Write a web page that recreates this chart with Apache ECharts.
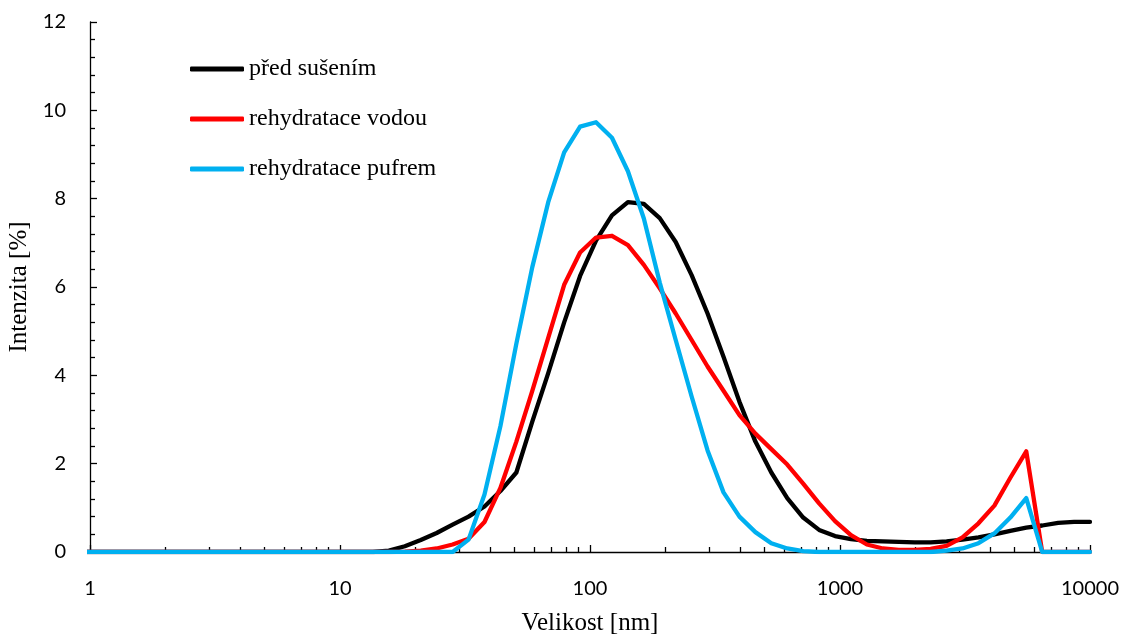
<!DOCTYPE html>
<html>
<head>
<meta charset="utf-8">
<script src="https://cdn.jsdelivr.net/npm/echarts@6/dist/echarts.min.js"></script>
<style>
html,body{margin:0;padding:0;background:#fff;}
#chart{width:1121px;height:634px;}
</style>
</head>
<body>
<div id="chart"></div>
<script>
// Particle size bins [nm]
const sizes = [0.9649,1.117,1.294,1.499,1.736,2.01,2.328,2.696,3.122,3.615,4.187,4.849,5.615,6.503,7.531,8.721,
  10.1,11.7,13.54,15.69,18.17,21.04,24.36,28.21,32.67,37.84,43.82,50.75,58.77,68.06,78.82,91.28,
  105.7,122.4,141.8,164.2,190.1,220.2,255.0,295.3,342.0,396.1,458.7,531.2,615.1,712.4,825.0,955.4,
  1106,1281,1484,1718,1990,2305,2669,3091,3580,4145,4801,5560,6439,7456,8635,10000];

const seriesNames = ['před sušením','rehydratace vodou','rehydratace pufrem'];

const predSusenim = [0,0,0,0,0,0,0,0,0,0,0,0,0,0,0,0,
  0,0,0,0.03,0.13,0.27,0.43,0.62,0.8,1.03,1.38,1.8,2.95,4.05,5.2,6.25,
  7.05,7.62,7.92,7.88,7.56,7.02,6.27,5.4,4.42,3.4,2.5,1.8,1.22,0.78,0.5,0.36,
  0.29,0.25,0.24,0.23,0.22,0.22,0.24,0.28,0.33,0.4,0.48,0.55,0.6,0.66,0.68,0.68];

const rehydrataceVodou = [0,0,0,0,0,0,0,0,0,0,0,0,0,0,0,0,
  0,0,0,0,0.01,0.03,0.08,0.17,0.3,0.68,1.45,2.5,3.65,4.85,6.05,6.78,
  7.12,7.16,6.95,6.5,5.97,5.4,4.8,4.2,3.65,3.1,2.68,2.33,1.98,1.55,1.1,0.7,
  0.38,0.17,0.08,0.05,0.05,0.07,0.14,0.33,0.65,1.05,1.68,2.28,0,0,0,0];

const rehydratacePufrem = [0,0,0,0,0,0,0,0,0,0,0,0,0,0,0,0,
  0,0,0,0,0,0,0,0,0.28,1.3,2.85,4.72,6.45,7.92,9.05,9.63,
  9.73,9.38,8.62,7.55,6.1,4.8,3.52,2.3,1.35,0.8,0.45,0.2,0.08,0.02,0,0,
  0,0,0,0,0,0,0.03,0.08,0.2,0.42,0.78,1.22,0,0,0,0];

const colors = ['#000000','#FF0000','#00B0F0'];
const allValues = [predSusenim, rehydrataceVodou, rehydratacePufrem];

const pair = vals => sizes.map((s,i)=>[s, vals[i]]);

const chart = echarts.init(document.getElementById('chart'), null, {renderer:'canvas'});
const serif = '"Liberation Serif","Times New Roman",serif';
const sans = 'Lato,"Liberation Sans",sans-serif';

chart.setOption({
  animation:false,
  backgroundColor:'#ffffff',
  grid:{left:90,right:31,top:22,bottom:82,containLabel:false,outerBoundsMode:'none'},
  legend:{
    data:seriesNames,
    orient:'vertical',
    left:185, top:52,
    padding:5,
    icon:'roundRect',
    itemWidth:54, itemHeight:5,
    itemGap:26,
    textStyle:{fontFamily:serif,fontSize:24,color:'#000',lineHeight:24}
  },
  xAxis:{
    type:'log', logBase:10, min:1, max:10000,
    name:'Velikost [nm]', nameLocation:'middle', nameGap:59,
    nameTextStyle:{fontFamily:serif,fontSize:25,color:'#000'},
    axisLine:{show:true,onZero:false,lineStyle:{color:'#000',width:1.3}},
    axisTick:{show:true,inside:true,length:7,lineStyle:{color:'#000',width:1.3}},
    minorTick:{show:true,splitNumber:9,length:5,lineStyle:{color:'#000',width:1.3}},
    axisLabel:{fontFamily:sans,fontSize:20,color:'#000',margin:27,formatter:v=>String(v)},
    splitLine:{show:false}, minorSplitLine:{show:false}
  },
  yAxis:{
    type:'value', min:0, max:12, interval:2,
    name:'Intenzita [%]', nameLocation:'middle', nameGap:58, nameRotate:90,
    nameTextStyle:{fontFamily:serif,fontSize:25,color:'#000'},
    axisLine:{show:true,lineStyle:{color:'#000',width:1.3}},
    axisTick:{show:true,inside:true,length:7,lineStyle:{color:'#000',width:1.3}},
    minorTick:{show:true,splitNumber:5,length:5,lineStyle:{color:'#000',width:1.3}},
    axisLabel:{fontFamily:sans,fontSize:20,color:'#000',margin:24},
    splitLine:{show:false}
  },
  series: seriesNames.map((n,k)=>({
    name:n, type:'line', data:pair(allValues[k]),
    showSymbol:false, symbol:'none',
    lineStyle:{color:colors[k],width:4.3,cap:'round',join:'round'},
    itemStyle:{color:colors[k]},
    z:2+k
  }))
});
</script>
</body>
</html>
